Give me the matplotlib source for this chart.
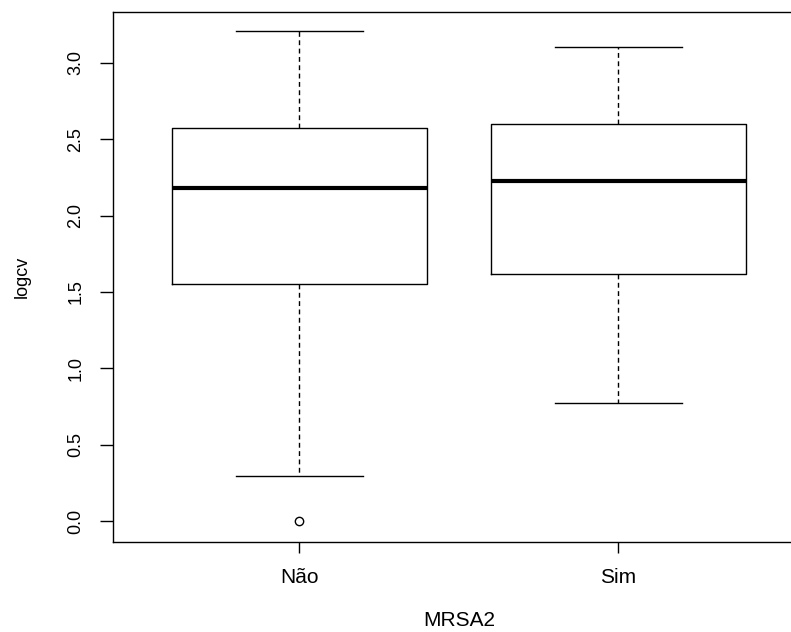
import numpy as np
import matplotlib
matplotlib.use("Agg")
import matplotlib.pyplot as plt

plt.rcParams["font.family"] = ["Liberation Sans", "DejaVu Sans"]

# values
groups = ["Não", "Sim"]
whis_low = [0.295, 0.773]
q1 = [1.555, 1.618]
median = [2.18, 2.227]
q3 = [2.575, 2.60]
whis_high = [3.21, 3.105]
outliers = [[0.0], []]
y_ticks = [0.0, 0.5, 1.0, 1.5, 2.0, 2.5, 3.0]

stats = []
for i, g in enumerate(groups):
    stats.append({"label": g, "whislo": whis_low[i], "q1": q1[i], "med": median[i],
                  "q3": q3[i], "whishi": whis_high[i], "fliers": outliers[i]})

fig = plt.figure(figsize=(7.91, 6.32), dpi=100)
# the right side of the original plot is cropped off, so the axes run past the figure edge
ax = fig.add_axes([0.1425, 0.1424, 0.8752, 0.981 - 0.1424])

ax.bxp(stats, positions=[1, 2], widths=0.8, showfliers=True,
       boxprops=dict(color="black", linewidth=1),
       medianprops=dict(color="black", linewidth=3, solid_capstyle="butt"),
       whiskerprops=dict(color="black", linewidth=1, linestyle=(0, (3.5, 2.5))),
       capprops=dict(color="black", linewidth=1),
       capwidths=0.4,
       flierprops=dict(marker="o", markerfacecolor="none", markeredgecolor="black",
                       markersize=6, markeredgewidth=1))

ax.set_xlim(0.415, 2.585)
ax.set_ylim(-0.1375, 3.334)
ax.set_yticks(y_ticks)
ax.set_yticklabels([f"{v:.1f}" for v in y_ticks], rotation=90, va="center")
ax.set_xticks([1, 2])
ax.set_xticklabels(groups)
ax.tick_params(axis="y", direction="out", length=9.5, width=1, labelsize=13, pad=11)
ax.tick_params(axis="x", direction="out", length=8, width=1, labelsize=15, pad=11)
for s in ax.spines.values():
    s.set_linewidth(1)

ax.set_xlabel("MRSA2", fontsize=15, labelpad=17)
ax.set_ylabel("logcv", fontsize=13, labelpad=26)

fig.savefig("out.png", dpi=100)
